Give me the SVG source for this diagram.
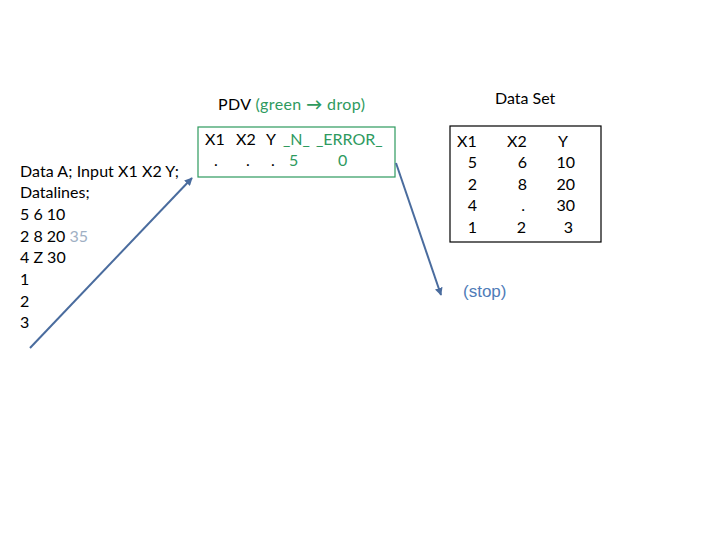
<svg xmlns="http://www.w3.org/2000/svg" width="720" height="540" viewBox="0 0 720 540">
<defs>
<style>
text{font-family:Lato,"Noto Sans","Liberation Sans",sans-serif;font-size:16px;fill:#000}
.g{fill:#2e9a5e}
.lb{fill:#9fb0c4}
.stop{font-family:"Liberation Sans",Arial,sans-serif;font-size:17px;fill:#4f7cb8}
.conn{stroke:#4a6c9e;stroke-width:2;fill:none;marker-end:url(#ah)}
.r{text-anchor:end}
</style>
<marker id="ah" viewBox="0 0 10 10" refX="9" refY="5" markerWidth="4" markerHeight="4" orient="auto">
<path d="M0,0 L10,5 L0,10 z" fill="#4a6c9e"/>
</marker>
</defs>
<rect width="720" height="540" fill="#fff"/>
<g id="code">
<text x="20" y="177" textLength="159">Data A; Input X1 X2 Y;</text>
<text x="20" y="198">Datalines;</text>
<text x="20" y="220">5 6 10</text>
<text x="20" y="242">2 8 20 <tspan class="lb">35</tspan></text>
<text x="20" y="263">4 Z 30</text>
<text x="20" y="285">1</text>
<text x="20" y="307">2</text>
<text x="20" y="328">3</text>
</g>
<g id="pdv">
<text x="218" y="110" textLength="147">PDV <tspan class="g">(green <tspan font-weight="bold">→</tspan> drop)</tspan></text>
<rect x="198" y="127" width="197" height="50" fill="none" stroke="#2e9a5e" stroke-width="1.2"/>
<text x="205" y="145">X1</text>
<text x="236" y="145">X2</text>
<text x="266" y="145">Y</text>
<text x="283" y="145" class="g">_N_</text>
<text x="316" y="145" class="g">_ERROR_</text>
<text x="214" y="166">.</text>
<text x="246" y="166">.</text>
<text x="271" y="166">.</text>
<text x="289" y="166" class="g">5</text>
<text x="338" y="166" class="g">0</text>
</g>
<g id="dataset">
<text x="495" y="104">Data Set</text>
<rect x="450" y="126" width="151" height="116" fill="none" stroke="#000" stroke-width="1.2"/>
<text x="457" y="147">X1</text>
<text x="507" y="147">X2</text>
<text x="558" y="147">Y</text>
<text x="477" y="168" class="r">5</text>
<text x="477" y="190" class="r">2</text>
<text x="477" y="211" class="r">4</text>
<text x="477" y="233" class="r">1</text>
<text x="527" y="168" class="r">6</text>
<text x="527" y="190" class="r">8</text>
<text x="525" y="211" class="r">.</text>
<text x="526" y="233" class="r">2</text>
<text x="575" y="168" class="r">10</text>
<text x="575" y="190" class="r">20</text>
<text x="575" y="211" class="r">30</text>
<text x="573" y="233" class="r">3</text>
</g>
<g id="stop">
<text x="463" y="297" class="stop">(stop)</text>
</g>
<g id="connectors">
<path class="conn" d="M30,348 L192,178"/>
<path class="conn" d="M396,163 L441,295"/>
</g>
</svg>
